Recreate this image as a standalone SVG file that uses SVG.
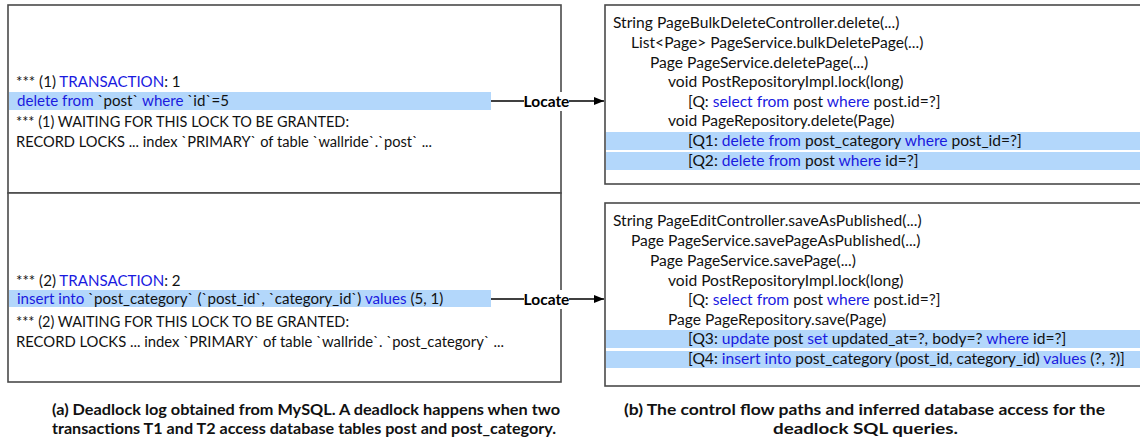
<svg xmlns="http://www.w3.org/2000/svg" width="1140" height="443" viewBox="0 0 1140 443">
  <defs>
    <marker id="arrow" viewBox="0 0 10 8" refX="10" refY="4" markerWidth="10" markerHeight="8" markerUnits="userSpaceOnUse" orient="auto">
      <path d="M0,0 L10,4 L0,8 Z" fill="#000"/>
    </marker>
    <style>
      .box { fill: #fff; stroke: #4a4a4a; stroke-width: 1.6; }
      .hl { fill: #b3d7fb; }
      .t { font-family: Lato, "Liberation Sans", sans-serif; font-size: 15.6px; fill: #111; }
      .tl { font-family: Lato, "Liberation Sans", sans-serif; font-size: 15.1px; fill: #111; }
      .k { fill: #1a1adf; }
      .lbl { font-family: Lato, "Liberation Sans", sans-serif; font-size: 15.5px; font-weight: bold; fill: #000; }
      .cap { font-family: Lato, "Liberation Sans", sans-serif; font-size: 16px; font-weight: bold; fill: #111; }
      .edge { stroke: #000; stroke-width: 1.3; fill: none; }
    </style>
  </defs>
  <rect width="1140" height="443" fill="#fff"/>

  <!-- deadlock log, transaction 1 -->
  <g id="log-t1">
    <rect class="box" x="8" y="5" width="553" height="188"/>
    <rect class="hl" x="9" y="92" width="482" height="18"/>
    <text class="tl" x="16" y="87">*** (1) <tspan class="k">TRANSACTION</tspan>: 1</text>
    <text class="tl" x="17" y="106"><tspan class="k">delete from</tspan> `post` <tspan class="k">where</tspan> `id`=5</text>
    <text class="t" x="16" y="127" textLength="333" lengthAdjust="spacingAndGlyphs">*** (1) WAITING FOR THIS LOCK TO BE GRANTED:</text>
    <text class="t" x="16" y="147" textLength="416" lengthAdjust="spacingAndGlyphs">RECORD LOCKS ... index `PRIMARY` of table `wallride`.`post` ...</text>
  </g>

  <!-- deadlock log, transaction 2 -->
  <g id="log-t2">
    <rect class="box" x="8" y="193" width="553" height="189"/>
    <rect class="hl" x="9" y="290" width="482" height="17"/>
    <text class="tl" x="16" y="286">*** (2) <tspan class="k">TRANSACTION</tspan>: 2</text>
    <text class="tl" x="17" y="304"><tspan class="k">insert into</tspan> `post_category` (`post_id`, `category_id`) <tspan class="k">values</tspan> (5, 1)</text>
    <text class="t" x="16" y="327" textLength="333" lengthAdjust="spacingAndGlyphs">*** (2) WAITING FOR THIS LOCK TO BE GRANTED:</text>
    <text class="t" x="16" y="347" textLength="488" lengthAdjust="spacingAndGlyphs">RECORD LOCKS ... index `PRIMARY` of table `wallride`. `post_category` ...</text>
  </g>

  <!-- control flow path for T1 -->
  <g id="path-t1">
    <rect class="box" x="605" y="5" width="545" height="179"/>
    <rect class="hl" x="606" y="132" width="540" height="18"/>
    <rect class="hl" x="606" y="152" width="540" height="18"/>
    <text class="t" x="613" y="28">String PageBulkDeleteController.delete(...)</text>
    <text class="t" x="631" y="48">List&lt;Page&gt; PageService.bulkDeletePage(...)</text>
    <text class="t" x="650" y="68">Page PageService.deletePage(...)</text>
    <text class="t" x="668" y="87">void PostRepositoryImpl.lock(long)</text>
    <text class="t" x="688" y="107">[Q: <tspan class="k">select from</tspan> post <tspan class="k">where</tspan> post.id=?]</text>
    <text class="t" x="668" y="126">void PageRepository.delete(Page)</text>
    <text class="t" x="688" y="146">[Q1: <tspan class="k">delete from</tspan> post_category <tspan class="k">where</tspan> post_id=?]</text>
    <text class="t" x="688" y="166">[Q2: <tspan class="k">delete from</tspan> post <tspan class="k">where</tspan> id=?]</text>
  </g>

  <!-- control flow path for T2 -->
  <g id="path-t2">
    <rect class="box" x="605" y="203" width="545" height="183"/>
    <rect class="hl" x="606" y="330" width="540" height="18"/>
    <rect class="hl" x="606" y="351" width="540" height="17"/>
    <text class="t" x="613" y="226">String PageEditController.saveAsPublished(...)</text>
    <text class="t" x="631" y="246">Page PageService.savePageAsPublished(...)</text>
    <text class="t" x="650" y="266">Page PageService.savePage(...)</text>
    <text class="t" x="668" y="286">void PostRepositoryImpl.lock(long)</text>
    <text class="t" x="688" y="305">[Q: <tspan class="k">select from</tspan> post <tspan class="k">where</tspan> post.id=?]</text>
    <text class="t" x="668" y="325">Page PageRepository.save(Page)</text>
    <text class="t" x="688" y="344">[Q3: <tspan class="k">update</tspan> post <tspan class="k">set</tspan> updated_at=?, body=? <tspan class="k">where</tspan> id=?]</text>
    <text class="t" x="688" y="364">[Q4: <tspan class="k">insert into</tspan> post_category (post_id, category_id) <tspan class="k">values</tspan> (?, ?)]</text>
  </g>

  <!-- "Locate" connectors -->
  <g id="connectors">
    <line class="edge" x1="491" y1="101" x2="604" y2="101" marker-end="url(#arrow)"/>
    <rect x="524" y="92" width="45" height="19" fill="#fff"/>
    <text class="lbl" x="546.5" y="106.5" text-anchor="middle">Locate</text>
    <line class="edge" x1="491" y1="299" x2="604" y2="299" marker-end="url(#arrow)"/>
    <rect x="524" y="290" width="45" height="19" fill="#fff"/>
    <text class="lbl" x="546.5" y="304.5" text-anchor="middle">Locate</text>
  </g>

  <!-- captions -->
  <g id="captions">
    <text class="cap" x="52" y="415" textLength="508" lengthAdjust="spacingAndGlyphs">(a) Deadlock log obtained from MySQL. A deadlock happens when two</text>
    <text class="cap" x="52" y="434" textLength="504" lengthAdjust="spacingAndGlyphs">transactions T1 and T2 access database tables post and post_category.</text>
    <text class="cap" x="624" y="415" textLength="481" lengthAdjust="spacingAndGlyphs">(b) The control flow paths and inferred database access for the</text>
    <text class="cap" x="773" y="434" textLength="185" lengthAdjust="spacingAndGlyphs">deadlock SQL queries.</text>
  </g>
</svg>
